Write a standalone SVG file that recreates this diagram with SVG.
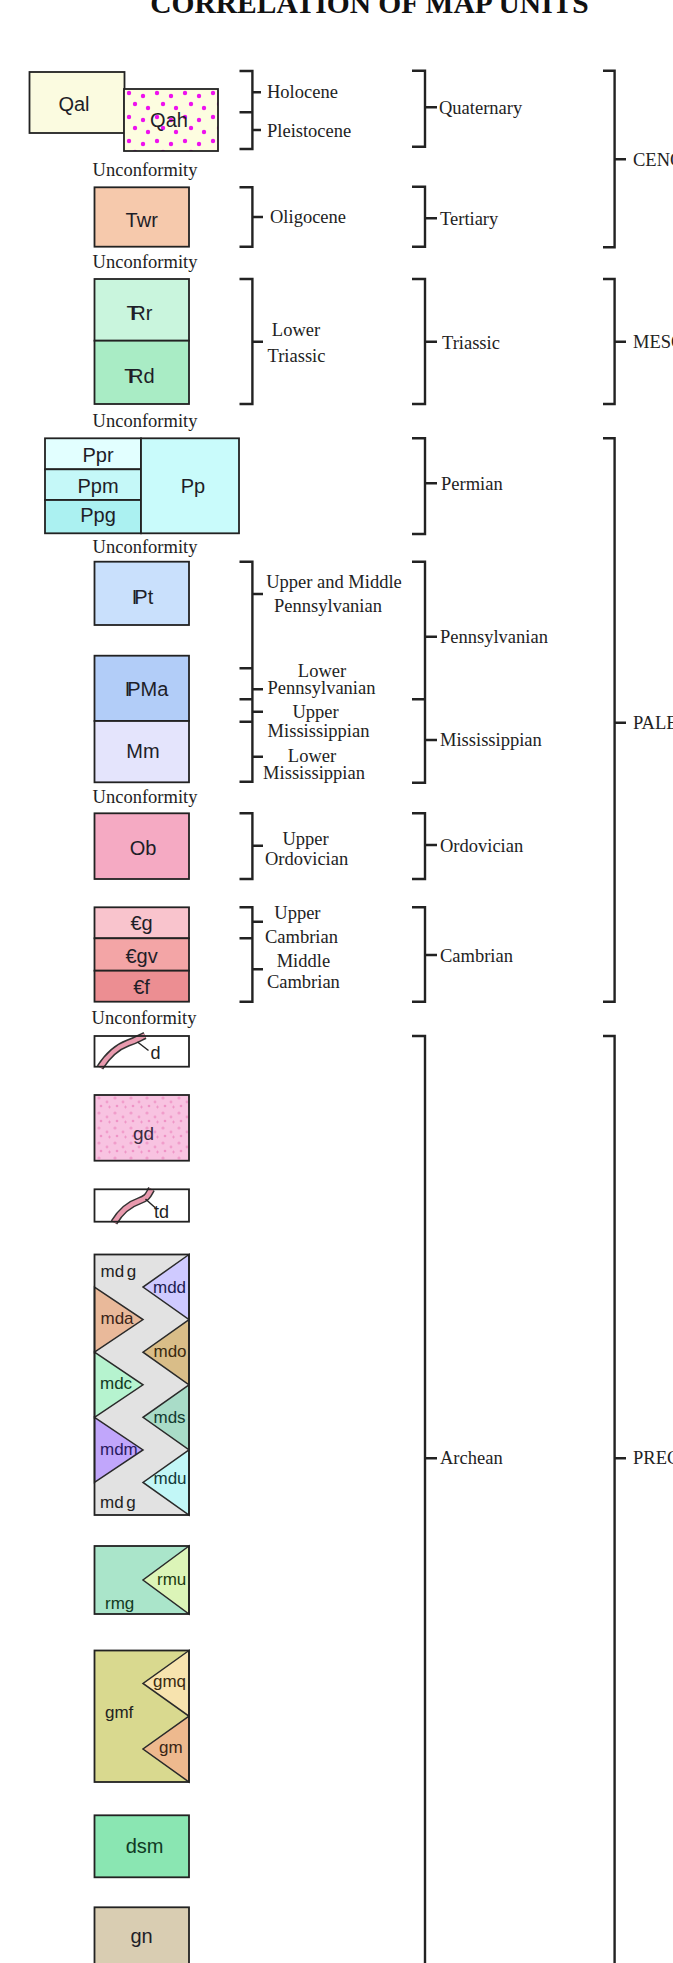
<svg xmlns="http://www.w3.org/2000/svg" width="673" height="1963" viewBox="0 0 673 1963">
<defs>
<style>
.box{stroke:#222;stroke-width:1.8}
.ol{fill:none;stroke:#222;stroke-width:1.8}
.tri{stroke:#2a2a2a;stroke-width:1.5}
.l{font-family:"Liberation Sans",Arial,sans-serif;font-size:20px;fill:#1e1e28;text-anchor:middle}
.s{font-family:"Liberation Sans",Arial,sans-serif;font-size:17px;fill:#222}
.t{font-family:"Liberation Serif","Times New Roman",serif;font-size:18.5px;fill:#222}
.m{text-anchor:middle}
.br{fill:none;stroke:#222;stroke-width:2.4}
.dk{fill:none;stroke:#333;stroke-width:7.5;stroke-linecap:butt}
.dp{fill:none;stroke:#e99aae;stroke-width:4.5;stroke-linecap:butt}
.title{font-family:"Liberation Serif","Times New Roman",serif;font-size:29.5px;font-weight:bold;fill:#111;text-anchor:middle}
</style>
<pattern id="dots" width="28" height="24" patternUnits="userSpaceOnUse" x="124" y="89">
<rect width="28" height="24" fill="#fdfde0"/>
<circle cx="5" cy="4" r="2.2" fill="#ee11ee"/>
<circle cx="19" cy="7" r="2.2" fill="#ee11ee"/>
<circle cx="11" cy="15" r="2.2" fill="#ee11ee"/>
<circle cx="24" cy="19" r="2.2" fill="#ee11ee"/>
</pattern>
<pattern id="speck" width="16" height="15" patternUnits="userSpaceOnUse">
<rect width="16" height="15" fill="#f8c3e1"/>
<circle cx="3" cy="3" r="1.6" fill="#f19dcb"/>
<circle cx="11" cy="7" r="1.4" fill="#f19dcb"/>
<circle cx="5" cy="11" r="1.3" fill="#ef93c6"/>
<path d="M12 12h3M13.5 10.5v3" stroke="#ee90c4" stroke-width="0.8"/>
</pattern>
<clipPath id="cMdg"><rect x="94.5" y="1254.5" width="94.5" height="260.5"/></clipPath>
<clipPath id="cRmg"><rect x="94.5" y="1546" width="94.5" height="68"/></clipPath>
<clipPath id="cGmf"><rect x="94.5" y="1650.5" width="94.5" height="131.5"/></clipPath>
</defs>
<rect width="673" height="1963" fill="#ffffff"/>

<text class="title" x="369.5" y="12.5">CORRELATION OF MAP UNITS</text>

<g id="Qal"><rect class="box" x="29.5" y="72" width="95" height="61" fill="#fbfbe0"/><text class="l" x="74" y="110.7">Qal</text></g>
<g id="Qah"><rect class="box" x="124" y="89" width="94" height="62" fill="url(#dots)"/><text class="l" x="169" y="126.7">Qah</text></g>

<g id="unconformities">
<text class="t m" x="145" y="176">Unconformity</text>
<text class="t m" x="145" y="268.3">Unconformity</text>
<text class="t m" x="145" y="427.3">Unconformity</text>
<text class="t m" x="145" y="552.7">Unconformity</text>
<text class="t m" x="145" y="803.3">Unconformity</text>
<text class="t m" x="144" y="1024">Unconformity</text>
</g>

<g id="Twr"><rect class="box" x="94.5" y="187.3" width="94.5" height="59.4" fill="#f6c9ac"/><text class="l" x="141.7" y="226.7">Twr</text></g>

<g id="TRr"><rect class="box" x="94.5" y="279" width="94.5" height="61.7" fill="#c9f5dd"/><text class="l" x="139.5" y="320">T<tspan dx="-7.5">R</tspan>r</text></g>
<g id="TRd"><rect class="box" x="94.5" y="340.7" width="94.5" height="63.3" fill="#a9ecc5"/><text class="l" x="139.5" y="383.3">T<tspan dx="-7.5">R</tspan>d</text></g>

<g id="Ppr"><rect class="box" x="45" y="438.3" width="96" height="31" fill="#e2ffff"/><text class="l" x="98" y="461.7">Ppr</text></g>
<g id="Ppm"><rect class="box" x="45" y="469.3" width="96" height="30.7" fill="#c5f8f8"/><text class="l" x="98" y="493.3">Ppm</text></g>
<g id="Ppg"><rect class="box" x="45" y="500" width="96" height="33.3" fill="#abf1f1"/><text class="l" x="98" y="521.7">Ppg</text></g>
<g id="Pp"><rect class="box" x="141" y="438.3" width="98" height="95" fill="#c9fbfb"/><text class="l" x="193" y="493">Pp</text></g>

<g id="IPt"><rect class="box" x="94.5" y="561.7" width="94.5" height="63.3" fill="#c9e0fc"/><text class="l" x="142.5" y="604">I<tspan dx="-3">P</tspan>t</text></g>
<g id="IPMa"><rect class="box" x="94.5" y="655.7" width="94.5" height="65.3" fill="#b2cdf8"/><text class="l" x="146.5" y="696">I<tspan dx="-3">P</tspan>Ma</text></g>
<g id="Mm"><rect class="box" x="94.5" y="721" width="94.5" height="61.3" fill="#e4e4fc"/><text class="l" x="143" y="758.3">Mm</text></g>

<g id="Ob"><rect class="box" x="94.5" y="813.3" width="94.5" height="65.7" fill="#f5aac3"/><text class="l" x="143" y="855">Ob</text></g>

<g id="Cg"><rect class="box" x="94.5" y="907.3" width="94.5" height="31" fill="#f9c4cd"/><text class="l" x="141.6" y="930">€g</text></g>
<g id="Cgv"><rect class="box" x="94.5" y="938.3" width="94.5" height="32.4" fill="#f3a5a6"/><text class="l" x="141.6" y="963.3">€gv</text></g>
<g id="Cf"><rect class="box" x="94.5" y="970.7" width="94.5" height="31" fill="#ec8e92"/><text class="l" x="141.6" y="994">€f</text></g>

<g id="d">
<rect x="94.5" y="1036" width="94.5" height="30.7" fill="#ffffff"/>
<path class="dk" d="M100 1067.5 C108 1055 117 1047 128 1043 S139 1038 145 1035.5"/>
<path class="dp" d="M100 1067.5 C108 1055 117 1047 128 1043 S139 1038 145 1035.5"/>
<path d="M137.5 1042 L148.5 1050.5" stroke="#222" stroke-width="1.4"/>
<rect class="ol" x="94.5" y="1036" width="94.5" height="30.7"/>
<text class="s" x="150.5" y="1058.5" style="font-size:18px">d</text>
</g>

<g id="gd"><rect class="box" x="94.5" y="1095" width="94.5" height="65.7" fill="url(#speck)"/><text class="l" x="143.5" y="1140" style="font-size:19px;fill:#3a2a40">gd</text></g>

<g id="td">
<rect x="94.5" y="1189.3" width="94.5" height="32.4" fill="#ffffff"/>
<path class="dk" d="M114 1222.5 C121 1211 130 1204 139 1201 S148 1195 151.5 1189"/>
<path class="dp" d="M114 1222.5 C121 1211 130 1204 139 1201 S148 1195 151.5 1189"/>
<path d="M145.5 1199 L155.5 1208" stroke="#222" stroke-width="1.4"/>
<rect class="ol" x="94.5" y="1189.3" width="94.5" height="32.4"/>
<text class="s" x="154" y="1218.3" style="font-size:18px">td</text>
</g>

<g id="mdg">
<rect x="94.5" y="1254.5" width="94.5" height="260.5" fill="#e2e2e2"/>
<polygon class="tri" points="189,1254.5 143,1287.1 189,1319.6" fill="#cfcaff"/>
<polygon class="tri" points="189,1319.6 143,1352.2 189,1384.8" fill="#d9bd88"/>
<polygon class="tri" points="189,1384.8 143,1417.3 189,1449.9" fill="#a9dcc8"/>
<polygon class="tri" points="189,1449.9 143,1482.4 189,1515" fill="#c2f7f7"/>
<polygon class="tri" points="94.5,1287.1 143,1319.6 94.5,1352.2" fill="#e9b99a"/>
<polygon class="tri" points="94.5,1352.2 143,1384.8 94.5,1417.3" fill="#b6f3cf"/>
<polygon class="tri" points="94.5,1417.3 143,1449.9 94.5,1482.4" fill="#c1a6fb"/>
<g clip-path="url(#cMdg)">
<text class="s" x="100.5" y="1276.7">md<tspan dx="2.5">g</tspan></text>
<text class="s" x="153" y="1292.7" style="fill:#1c1c50">mdd</text>
<text class="s" x="100.5" y="1324" style="fill:#3a2418">mda</text>
<text class="s" x="153.5" y="1357.3" style="fill:#3a2a10">mdo</text>
<text class="s" x="100" y="1389.3" style="fill:#123a22">mdc</text>
<text class="s" x="153.5" y="1422.7" style="fill:#123a30">mds</text>
<text class="s" x="100" y="1455" style="fill:#2a1a60">mdm</text>
<text class="s" x="153.5" y="1484" style="fill:#123a3a">mdu</text>
<text class="s" x="100" y="1508.3">md<tspan dx="2.5">g</tspan></text>
</g>
<rect class="ol" x="94.5" y="1254.5" width="94.5" height="260.5"/>
</g>

<g id="rmg">
<rect x="94.5" y="1546" width="94.5" height="68" fill="#aae5ca"/>
<polygon class="tri" points="189,1546 143,1580 189,1614" fill="#dcf5b8"/>
<g clip-path="url(#cRmg)">
<text class="s" x="157" y="1585" style="fill:#1c3a10">rmu</text>
<text class="s" x="105" y="1609.3" style="fill:#123a22">rmg</text>
</g>
<rect class="ol" x="94.5" y="1546" width="94.5" height="68"/>
</g>

<g id="gmf">
<rect x="94.5" y="1650.5" width="94.5" height="131.5" fill="#d9d98f"/>
<polygon class="tri" points="189,1650.5 143,1683.4 189,1716.2" fill="#f7e3ae"/>
<polygon class="tri" points="189,1716.2 143,1749 189,1782" fill="#eeb98e"/>
<g clip-path="url(#cGmf)">
<text class="s" x="153" y="1686.7" style="fill:#3a2a10">gmq</text>
<text class="s" x="105" y="1718.3">gmf</text>
<text class="s" x="159" y="1753.3" style="fill:#3a2414">gm</text>
</g>
<rect class="ol" x="94.5" y="1650.5" width="94.5" height="131.5"/>
</g>

<g id="dsm"><rect class="box" x="94.5" y="1815.3" width="94.5" height="62" fill="#8ae6b2"/><text class="l" x="144.6" y="1853.3" style="fill:#103a24">dsm</text></g>
<g id="gn"><rect class="box" x="94.5" y="1907.3" width="94.5" height="70" fill="#d9cdb2"/><text class="l" x="141.6" y="1943.3">gn</text></g>

<g id="connectors">
<path class="br" d="M239.5 71H252.4V149H239.5M239.5 112.3H252.4M252.4 92.3H261M252.4 130H261"/>
<path class="br" d="M239.5 187.3H252.4V246.7H239.5M252.4 217H263"/>
<path class="br" d="M239.5 279H252.4V404H239.5M252.4 341.7H263"/>
<path class="br" d="M239.5 561.7H252.4V781.7H239.5M239.5 668.3H252.4M239.5 699.3H252.4M239.5 721.7H252.4M252.4 594H263M252.4 689.3H263M252.4 711.7H263M252.4 756.7H263"/>
<path class="br" d="M239.5 813.3H252.4V879H239.5M252.4 845.7H263"/>
<path class="br" d="M239.5 907.3H252.4V1001.7H239.5M239.5 938.3H252.4M252.4 921.7H263M252.4 969.3H263"/>

<path class="br" d="M412 70.7H425V146.7H412M425 107.3H437"/>
<path class="br" d="M412 186.7H425V246.7H412M425 218.3H437"/>
<path class="br" d="M412 279H425V404H412M425 341.7H437"/>
<path class="br" d="M412 438.3H425V534H412M425 483.3H437"/>
<path class="br" d="M412 561.7H425V782.7H412M412 699.3H425M425 636.7H437M425 740H437"/>
<path class="br" d="M412 813.3H425V879H412M425 845H437"/>
<path class="br" d="M412 907.3H425V1001.7H412M425 955H437"/>
<path class="br" d="M412 1036H425V1970M425 1458.3H437"/>

<path class="br" d="M603 70.7H614.6V247.3H603M614.6 159.3H626"/>
<path class="br" d="M603 279H614.6V404H603M614.6 341.7H626"/>
<path class="br" d="M603 438.3H614.6V1001.7H603M614.6 722.7H626"/>
<path class="br" d="M603 1036H614.6V1970M614.6 1458.3H626"/>
</g>

<g id="labels">
<text class="t" x="267" y="97.7">Holocene</text>
<text class="t" x="267" y="137">Pleistocene</text>
<text class="t" x="270" y="222.7">Oligocene</text>
<text class="t m" x="296" y="336">Lower</text>
<text class="t m" x="296.5" y="361.7">Triassic</text>
<text class="t m" x="334" y="588.3">Upper and Middle</text>
<text class="t m" x="328" y="611.7">Pennsylvanian</text>
<text class="t m" x="322" y="676.7">Lower</text>
<text class="t m" x="321.5" y="694">Pennsylvanian</text>
<text class="t m" x="315.5" y="718.3">Upper</text>
<text class="t m" x="318.5" y="736.7">Mississippian</text>
<text class="t m" x="312" y="761.7">Lower</text>
<text class="t m" x="314" y="779.3">Mississippian</text>
<text class="t m" x="305.6" y="845">Upper</text>
<text class="t m" x="306.6" y="865">Ordovician</text>
<text class="t m" x="297.4" y="919.3">Upper</text>
<text class="t m" x="301.5" y="942.7">Cambrian</text>
<text class="t m" x="303.4" y="967.3">Middle</text>
<text class="t m" x="303.4" y="988.3">Cambrian</text>

<text class="t" x="439" y="114">Quaternary</text>
<text class="t" x="440" y="224.5">Tertiary</text>
<text class="t" x="442" y="348.5">Triassic</text>
<text class="t" x="441" y="489.5">Permian</text>
<text class="t" x="440" y="642.5">Pennsylvanian</text>
<text class="t" x="440" y="746">Mississippian</text>
<text class="t" x="440" y="851.5">Ordovician</text>
<text class="t" x="440" y="961.5">Cambrian</text>
<text class="t" x="440" y="1464.3">Archean</text>

<text class="t" x="633" y="165.5">CENOZOIC</text>
<text class="t" x="633" y="348">MESOZOIC</text>
<text class="t" x="633" y="729">PALEOZOIC</text>
<text class="t" x="633" y="1464.3">PRECAMBRIAN</text>
</g>
</svg>
